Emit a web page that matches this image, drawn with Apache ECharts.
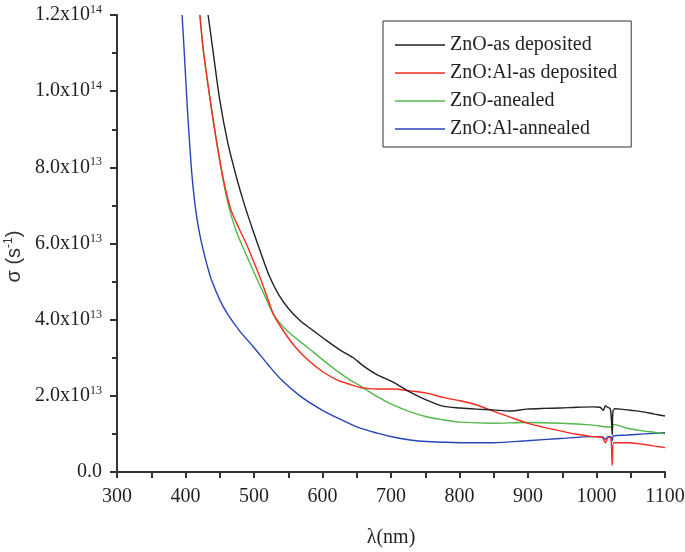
<!DOCTYPE html>
<html>
<head>
<meta charset="utf-8">
<script src="https://cdn.jsdelivr.net/npm/echarts@6/dist/echarts.min.js"></script>
<style>
html,body{margin:0;padding:0;background:#fff;}
#chart{width:685px;height:552px;}
</style>
</head>
<body>
<div id="chart"></div>
<script>
// values of sigma are in units of 1e13 s^-1
const seriesNames = ['ZnO-as deposited', 'ZnO:Al-as deposited', 'ZnO-anealed', 'ZnO:Al-annealed'];

const blackLambda = [433, 440, 450, 462, 475, 485, 497, 510, 523, 536, 550, 567, 586, 606, 626, 645, 660, 680, 703, 728, 752, 776, 801, 825, 849, 874, 898, 922, 947, 971, 995, 1005, 1010, 1013, 1016, 1020, 1022, 1023, 1024, 1027, 1035, 1050, 1068, 1085, 1100];
const blackSigma  = [12.0, 11.08, 9.77, 8.62, 7.70, 7.08, 6.42, 5.75, 5.12, 4.66, 4.30, 3.98, 3.72, 3.45, 3.20, 3.0, 2.78, 2.55, 2.36, 2.10, 1.89, 1.73, 1.68, 1.65, 1.63, 1.60, 1.65, 1.67, 1.68, 1.70, 1.71, 1.70, 1.62, 1.74, 1.70, 1.66, 1.3, 0.97, 1.6, 1.66, 1.65, 1.62, 1.58, 1.52, 1.47];

const redLambda = [421, 426, 436, 445, 453, 460, 467, 478, 489, 499, 509, 519, 529, 545, 560, 580, 600, 621, 640, 655, 668, 680, 703, 728, 752, 776, 801, 825, 849, 874, 898, 922, 947, 971, 995, 1008, 1013, 1017, 1021, 1023, 1025, 1045, 1068, 1085, 1100];
const redSigma  = [12.0, 11.08, 9.77, 8.72, 7.90, 7.30, 6.85, 6.40, 5.98, 5.55, 5.10, 4.60, 4.12, 3.65, 3.29, 2.92, 2.64, 2.42, 2.30, 2.22, 2.19, 2.18, 2.18, 2.13, 2.07, 1.96, 1.87, 1.76, 1.60, 1.44, 1.29, 1.18, 1.08, 0.99, 0.93, 0.91, 0.77, 0.91, 0.88, 0.18, 0.77, 0.77, 0.73, 0.68, 0.64];

const greenLambda = [421, 426, 436, 445, 453, 460, 467, 475, 485, 495, 505, 517, 529, 550, 577, 600, 620, 640, 655, 680, 703, 728, 752, 776, 801, 849, 898, 947, 995, 1017, 1021, 1023, 1025, 1045, 1068, 1085, 1100];
const greenSigma  = [12.0, 11.08, 9.77, 8.70, 7.85, 7.22, 6.72, 6.28, 5.85, 5.44, 5.04, 4.58, 4.12, 3.68, 3.29, 2.95, 2.67, 2.42, 2.26, 1.98, 1.76, 1.58, 1.45, 1.37, 1.31, 1.28, 1.30, 1.28, 1.23, 1.18, 1.18, 1.10, 1.25, 1.15, 1.08, 1.04, 1.00];

const blueLambda = [395, 398, 402, 405, 409, 413, 417, 421, 426, 432, 438, 450, 462, 480, 499, 520, 540, 567, 600, 630, 655, 680, 703, 728, 752, 801, 849, 898, 947, 995, 1008, 1013, 1017, 1021, 1023, 1025, 1045, 1070, 1100];
const blueSigma  = [12.0, 11.08, 9.77, 8.90, 7.88, 7.15, 6.62, 6.22, 5.82, 5.40, 5.04, 4.52, 4.13, 3.68, 3.29, 2.83, 2.42, 2.00, 1.62, 1.35, 1.15, 1.02, 0.92, 0.84, 0.80, 0.77, 0.77, 0.82, 0.88, 0.93, 0.93, 0.86, 0.93, 0.93, 0.82, 0.95, 0.97, 1.00, 1.03];

const xTicks = [300, 400, 500, 600, 700, 800, 900, 1000, 1100];
const yTicks = [0, 2, 4, 6, 8, 10, 12];

const colors = ['#222222', '#f42a1e', '#52b849', '#2545b8'];

function pairs(xs, ys) { return xs.map((x, i) => [x, ys[i]]); }

const serif = 'Liberation Serif';
const allData = [pairs(blackLambda, blackSigma), pairs(redLambda, redSigma), pairs(greenLambda, greenSigma), pairs(blueLambda, blueSigma)];

const chart = echarts.init(document.getElementById('chart'), null, {renderer: 'canvas'});
chart.setOption({
  animation: false,
  backgroundColor: '#fff',
  grid: {left: 117, right: 20, top: 15, bottom: 80, containLabel: false, outerBoundsMode: 'none'},
  legend: {
    orient: 'vertical',
    left: 383, top: 21,
    padding: [14, 14, 8, 12],
    itemGap: 8,
    itemWidth: 50,
    itemHeight: 14,
    borderColor: '#333',
    borderWidth: 1,
    textStyle: {fontFamily: serif, fontSize: 20, color: '#231f20', lineHeight: 20},
    data: seriesNames.map(n => ({name: n, icon: 'path://M0,0L50,0L50,1.3L0,1.3Z'}))
  },
  xAxis: {
    type: 'value', min: xTicks[0], max: xTicks[xTicks.length - 1], interval: 100,
    name: 'λ(nm)', nameLocation: 'middle', nameGap: 56,
    nameTextStyle: {fontFamily: serif, fontSize: 20, color: '#231f20'},
    axisLine: {show: true, onZero: false, lineStyle: {color: '#333', width: 2}},
    axisTick: {show: true, inside: false, length: 6, lineStyle: {color: '#333', width: 2}},
    minorTick: {show: true, splitNumber: 2, length: 6, lineStyle: {color: '#333', width: 2}},
    splitLine: {show: false},
    axisLabel: {fontFamily: serif, fontSize: 20, color: '#231f20', margin: 15,
      formatter: function (v) { return String(v); }}
  },
  yAxis: {
    type: 'value', min: yTicks[0], max: yTicks[yTicks.length - 1], interval: 2,
    name: 'σ (s{sup|-1})', nameLocation: 'middle', nameGap: 88, nameRotate: 90,
    nameTextStyle: {fontFamily: 'Liberation Sans', fontSize: 20, color: '#333', padding: [0, 26, 0, 0],
      rich: {sup: {fontFamily: 'Liberation Sans', fontSize: 12, color: '#333', padding: [0, 0, 10, 0]}}},
    axisLine: {show: true, lineStyle: {color: '#333', width: 2}},
    axisTick: {show: true, inside: false, length: 7, lineStyle: {color: '#333', width: 2}},
    minorTick: {show: true, splitNumber: 2, length: 5, lineStyle: {color: '#333', width: 2}},
    splitLine: {show: false},
    axisLabel: {
      fontFamily: serif, fontSize: 20, color: '#231f20', margin: 15,
      formatter: function (v) {
        if (v === 0) return '0.0';
        if (v < 10) return v.toFixed(1) + 'x10{sup|13}';
        return (v / 10).toFixed(1) + 'x10{sup|14}';
      },
      rich: {sup: {fontFamily: serif, fontSize: 12, color: '#231f20', padding: [0, 0, 10, 0]}}
    }
  },
  series: seriesNames.map((n, i) => ({
    name: n, type: 'line', data: allData[i], symbol: 'none', smooth: 0.3,
    clip: true, lineStyle: {color: colors[i], width: 1.4}, itemStyle: {color: colors[i]}, z: 4 - i
  }))
});
</script>
</body>
</html>
